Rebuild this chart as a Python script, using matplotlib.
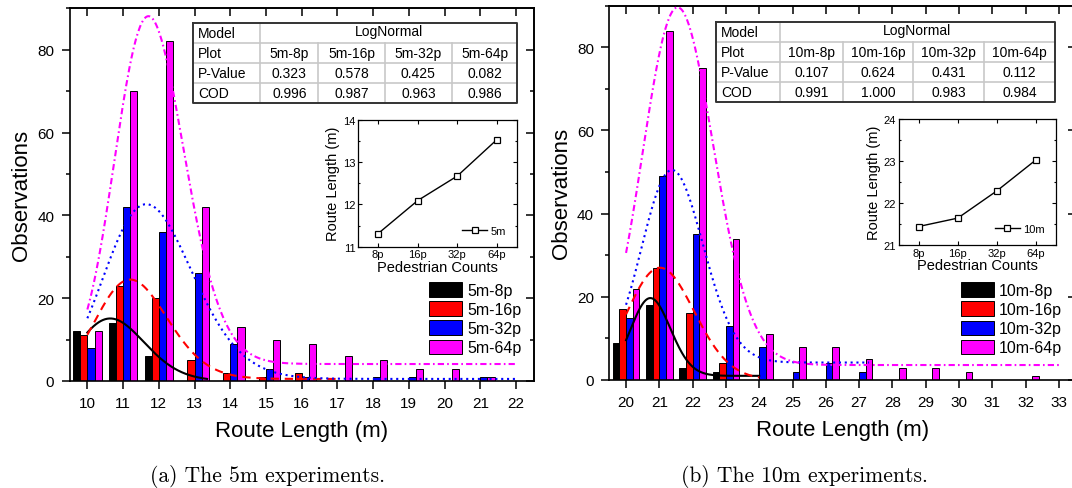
import matplotlib
matplotlib.use('Agg')
import matplotlib.pyplot as plt
import numpy as np
from matplotlib.ticker import MultipleLocator, NullFormatter

plt.rcParams['font.family'] = ['Liberation Sans', 'DejaVu Sans']

W, H = 1072, 489

series_names = ['8p', '16p', '32p', '64p']
bar_colors = ['#000000', '#ff0000', '#0000ff', '#ff00ff']

# 5m experiments: observations per route length bin
length_5m = [10, 11, 12, 13, 14, 15, 16, 17, 18, 19, 20, 21, 22]
obs_5m_8p = [12, 14, 6, 0, 0, 0, 0, 0, 0, 0, 0, 0, 0]
obs_5m_16p = [11, 23, 20, 5, 2, 1, 2, 0, 0, 0, 0, 0, 0]
obs_5m_32p = [8, 42, 36, 26, 9, 3, 1, 0, 1, 1, 0, 1, 0]
obs_5m_64p = [12, 70, 82, 42, 13, 10, 9, 6, 5, 3, 3, 1, 0]

# 10m experiments
length_10m = [20, 21, 22, 23, 24, 25, 26, 27, 28, 29, 30, 31, 32, 33]
obs_10m_8p = [9, 18, 3, 2, 0, 0, 0, 0, 0, 0, 0, 0, 0, 0]
obs_10m_16p = [17, 27, 16, 4, 0, 0, 0, 0, 0, 0, 0, 0, 0, 0]
obs_10m_32p = [15, 49, 35, 13, 8, 2, 4, 2, 0, 0, 0, 0, 0, 0]
obs_10m_64p = [22, 84, 75, 34, 11, 8, 8, 5, 3, 3, 2, 0, 1, 0]

# lognormal fits (offset, peak height, mode, log-width, x range)
fit_5m_offset = [0.0, 0.5, 0.5, 4.1]
fit_5m_height = [15.1, 24.0, 42.2, 84.0]
fit_5m_mode = [10.64, 11.2, 11.65, 11.71]
fit_5m_width = [0.087, 0.089, 0.105, 0.082]
fit_5m_range = [(10, 13.35), (10, 17), (10, 22), (10, 22)]

fit_10m_offset = [1.0, 0.0, 4.2, 3.6]
fit_10m_height = [18.7, 27.0, 46.3, 86.0]
fit_10m_mode = [20.73, 21.02, 21.38, 21.55]
fit_10m_width = [0.0287, 0.048, 0.043, 0.049]
fit_10m_range = [(20, 24), (20, 24), (20, 27.3), (20, 33)]

# table values
table_rows = ['Model', 'Plot', 'P-Value', 'COD']
pvalue_5m = ['0.323', '0.578', '0.425', '0.082']
cod_5m = ['0.996', '0.987', '0.963', '0.986']
pvalue_10m = ['0.107', '0.624', '0.431', '0.112']
cod_10m = ['0.991', '1.000', '0.983', '0.984']

# inset: mean route length vs pedestrian count
ped_counts = ['8p', '16p', '32p', '64p']
route_5m = [11.31, 12.09, 12.67, 13.53]
route_10m = [21.44, 21.64, 22.29, 23.03]

line_styles = ['-', (0, (4, 2.8)), (0, (1, 1.8)), (0, (3, 1.5, 0.8, 1.5))]


def lognormal(x, y0, h, mode, w):
    return y0 + h * np.exp(-np.log(x / mode) ** 2 / (2 * w ** 2))


def px_axes(fig, x0, y0, x1, y1):
    return fig.add_axes([x0 / W, 1 - y1 / H, (x1 - x0) / W, (y1 - y0) / H])


def style_main(ax, xlim, xticks):
    ax.set_xlim(*xlim)
    ax.set_ylim(0, 90)
    ax.set_xticks(xticks)
    ax.yaxis.set_major_locator(MultipleLocator(20))
    ax.yaxis.set_minor_locator(MultipleLocator(10))
    ax.tick_params(which='both', direction='out', width=1.1, labelsize=11, pad=5)
    ax.tick_params(which='major', length=6)
    ax.tick_params(which='minor', length=3)
    for s in ax.spines.values():
        s.set_linewidth(1.2)
    secx = ax.secondary_xaxis('top')
    secx.set_xticks(xticks)
    secx.xaxis.set_major_formatter(NullFormatter())
    secx.tick_params(direction='in', length=6, width=1.1)
    secx.spines['top'].set_linewidth(1.2)
    secy = ax.secondary_yaxis('right')
    secy.yaxis.set_major_locator(MultipleLocator(20))
    secy.yaxis.set_minor_locator(MultipleLocator(10))
    secy.yaxis.set_major_formatter(NullFormatter())
    secy.tick_params(which='both', direction='in', width=1.1)
    secy.tick_params(which='major', length=6)
    secy.tick_params(which='minor', length=3)
    secy.spines['right'].set_linewidth(1.2)
    ax.set_xlabel('Route Length (m)', fontsize=16, labelpad=7)
    ax.set_ylabel('Observations', fontsize=16, labelpad=4)


def draw_hist(ax, lengths, obs_list, prefix, offs, heights, modes, widths, ranges, leg_anchor):
    xs = np.array(lengths, dtype=float)
    for i, obs in enumerate(obs_list):
        ax.bar(xs + (i - 1.5) * 0.2, obs, width=0.2, color=bar_colors[i],
               edgecolor='black', linewidth=0.7, label=prefix + series_names[i], zorder=2)
    for i in range(4):
        xf = np.linspace(ranges[i][0], ranges[i][1], 400)
        ax.plot(xf, lognormal(xf, offs[i], heights[i], modes[i], widths[i]),
                color=bar_colors[i], lw=1.5, linestyle=line_styles[i], zorder=3)
    ax.legend(loc='upper left', bbox_to_anchor=leg_anchor, frameon=False, fontsize=11.5,
              handlelength=2.1, handleheight=1.0, handletextpad=0.3, labelspacing=0.22,
              borderpad=0, borderaxespad=0)


def draw_table(fig, cols, rows, plots, pvals, cods):
    x0, x1 = cols[0], cols[-1]
    y0, y1 = rows[0], rows[-1]
    ax = px_axes(fig, x0, y0, x1, y1)
    ax.set_xlim(x0, x1)
    ax.set_ylim(y1, y0)
    ax.axis('off')
    grey = '#c8c8c8'
    for y in rows[1:-1]:
        ax.plot([x0, x1], [y, y], color=grey, lw=1.2, clip_on=False)
    for j, x in enumerate(cols[1:-1]):
        ytop = y0 if j == 0 else rows[1]
        ax.plot([x, x], [ytop, y1], color=grey, lw=1.2, clip_on=False)
    ax.plot([x0, x1, x1, x0, x0], [y0, y0, y1, y1, y0], color='#333333', lw=1.4, clip_on=False)
    cells = [plots, pvals, cods]
    for r, name in enumerate(table_rows):
        yc = (rows[r] + rows[r + 1]) / 2
        ax.text(x0 + 5, yc, name, ha='left', va='center', fontsize=10)
        if r == 0:
            ax.text((cols[1] + x1) / 2, yc - 2, 'LogNormal', ha='center', va='center', fontsize=10)
        else:
            for c in range(4):
                ax.text((cols[c + 1] + cols[c + 2]) / 2, yc, cells[r - 1][c],
                        ha='center', va='center', fontsize=10)


def draw_inset(fig, box, values, ylim, label):
    ax = px_axes(fig, *box)
    ax.plot(range(4), values, color='black', lw=1.0, marker='s', markersize=4.5,
            markerfacecolor='white', markeredgecolor='black', markeredgewidth=0.9, label=label)
    ax.set_xlim(-0.5, 3.5)
    ax.set_ylim(*ylim)
    ax.set_xticks(range(4))
    ax.set_xticklabels(ped_counts)
    ax.yaxis.set_major_locator(MultipleLocator(1))
    ax.yaxis.set_minor_locator(MultipleLocator(0.5))
    ax.tick_params(which='both', direction='in', top=True, right=True, labelsize=8, pad=2, width=0.8)
    ax.tick_params(which='major', length=3)
    ax.tick_params(which='minor', length=1.5)
    for s in ax.spines.values():
        s.set_linewidth(0.9)
    ax.set_xlabel('Pedestrian Counts', fontsize=10.5, labelpad=0.5)
    ax.set_ylabel('Route Length (m)', fontsize=10.5, labelpad=2)
    ax.legend(loc='lower right', frameon=False, fontsize=8, handlelength=2.2,
              handletextpad=0.3, borderaxespad=0.6)


fig = plt.figure(figsize=(W / 100, H / 100), dpi=100)

ax1 = px_axes(fig, 69.5, 9.3, 533.9, 382)
draw_hist(ax1, length_5m, [obs_5m_8p, obs_5m_16p, obs_5m_32p, obs_5m_64p], '5m-',
          fit_5m_offset, fit_5m_height, fit_5m_mode, fit_5m_width, fit_5m_range, (0.774, 0.265))
style_main(ax1, (9.5, 22.5), length_5m)

ax2 = px_axes(fig, 609.4, 6.7, 1075.5, 381)
draw_hist(ax2, length_10m, [obs_10m_8p, obs_10m_16p, obs_10m_32p, obs_10m_64p], '10m-',
          fit_10m_offset, fit_10m_height, fit_10m_mode, fit_10m_width, fit_10m_range, (0.754, 0.261))
style_main(ax2, (19.5, 33.5), length_10m)

draw_table(fig, [193.3, 260.3, 318.3, 385, 451.7, 517.3], [24, 44, 64, 84, 104],
           ['5m-' + s for s in series_names], pvalue_5m, cod_5m)
draw_table(fig, [716, 780, 843.3, 913.3, 984.3, 1055], [23.3, 43.3, 63.3, 83.3, 103.3],
           ['10m-' + s for s in series_names], pvalue_10m, cod_10m)

draw_inset(fig, (358.3, 120.7, 516.7, 247.7), route_5m, (11, 14), '5m')
draw_inset(fig, (899, 120, 1055.7, 246), route_10m, (21, 24), '10m')

fig.text(0.25, 0.026, '(a) The 5m experiments.', ha='center', va='center',
         fontsize=15.5, family=['cmr10', 'DejaVu Serif'])
fig.text(0.75, 0.026, '(b) The 10m experiments.', ha='center', va='center',
         fontsize=15.5, family=['cmr10', 'DejaVu Serif'])

fig.savefig('out.png', dpi=100)
